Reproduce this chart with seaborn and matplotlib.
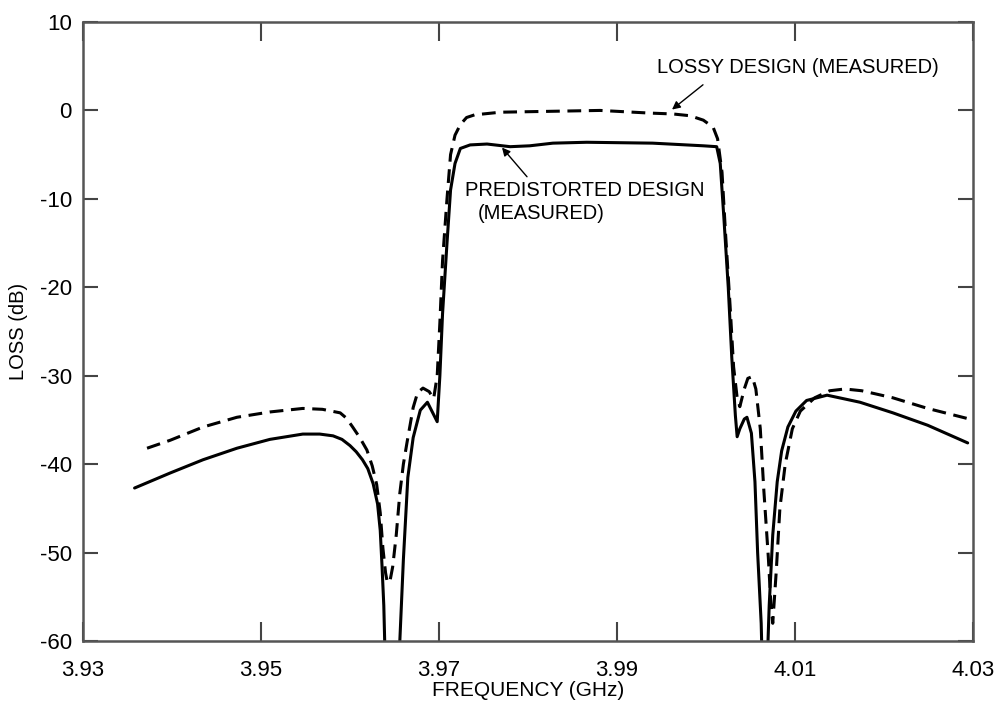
import matplotlib
matplotlib.use("Agg")
import matplotlib.pyplot as plt
import seaborn as sns
import pandas as pd

# ---- data ----
lossy_freq = [3.9372, 3.9398, 3.9435, 3.9473, 3.9510, 3.9547, 3.9569, 3.9589, 3.9596,
              3.9603, 3.9611, 3.9619, 3.9625, 3.9630, 3.9634, 3.9637, 3.9640, 3.9642,
              3.9645, 3.9648, 3.9652, 3.9656, 3.9660, 3.9664, 3.9671, 3.9676, 3.9682,
              3.9689, 3.9694, 3.9698, 3.9701, 3.9704, 3.9709, 3.9713, 3.9718, 3.9724,
              3.9731, 3.9740, 3.9769, 3.9825, 3.9881, 3.9937, 3.9963, 3.9982, 3.9997,
              4.0008, 4.0013, 4.0018, 4.0022, 4.0027, 4.0031, 4.0035, 4.0038, 4.0043,
              4.0047, 4.0052, 4.0056, 4.0061, 4.0065, 4.0070, 4.0073, 4.0075, 4.0079,
              4.0083, 4.0089, 4.0097, 4.0106, 4.0122, 4.0139, 4.0156, 4.0175, 4.0210,
              4.0249, 4.0300]
lossy_db = [-38.2, -37.3, -35.8, -34.7, -34.1, -33.7, -33.8, -34.2, -34.8,
            -35.8, -37.0, -38.4, -40.2, -42.3, -45.5, -49.5, -52.3, -53.4,
            -53.2, -51.6, -48.0, -43.3, -40.0, -37.6, -33.6, -31.9, -31.4,
            -31.8, -32.6, -30.0, -24.0, -17.0, -10.0, -5.0, -2.8, -1.6,
            -0.8, -0.5, -0.2, -0.1, 0.0, -0.3, -0.4, -0.6, -1.1,
            -1.9, -3.2, -7.0, -14.0, -22.0, -29.0, -32.5, -33.5, -31.5,
            -30.3, -30.1, -31.5, -36.0, -43.0, -50.5, -56.0, -58.0, -52.0,
            -45.0, -40.0, -36.0, -34.0, -32.5, -31.7, -31.5, -31.7, -32.5,
            -33.7, -35.0]

pre_freq = [3.9358, 3.9398, 3.9435, 3.9473, 3.9510, 3.9547, 3.9566, 3.9581, 3.9591,
            3.9600, 3.9607, 3.9614, 3.9620, 3.9626, 3.9631, 3.9634, 3.9636, 3.9638,
            3.9640, 3.9654, 3.9656, 3.9660, 3.9665, 3.9671, 3.9679, 3.9687, 3.9693,
            3.9698, 3.9701, 3.9704, 3.9709, 3.9713, 3.9718, 3.9724, 3.9735, 3.9754,
            3.9780, 3.9802, 3.9828, 3.9866, 3.9940, 3.9997, 4.0012, 4.0016, 4.0020,
            4.0025, 4.0029, 4.0033, 4.0035, 4.0038, 4.0043, 4.0046, 4.0051, 4.0055,
            4.0058, 4.0062, 4.0063, 4.0066, 4.0069, 4.0071, 4.0075, 4.0080, 4.0085,
            4.0092, 4.0101, 4.0113, 4.0136, 4.0173, 4.0210, 4.0249, 4.0294]
pre_db = [-42.7, -41.0, -39.5, -38.2, -37.2, -36.6, -36.6, -36.8, -37.2,
          -37.9, -38.6, -39.5, -40.5, -42.2, -44.5, -47.5, -51.5, -56.0,
          -64.0, -64.0, -60.0, -50.8, -41.5, -37.0, -33.9, -33.0, -34.2,
          -35.2, -30.0, -23.0, -15.0, -9.0, -6.0, -4.3, -3.9, -3.8,
          -4.1, -4.0, -3.7, -3.6, -3.7, -4.0, -4.1, -6.0, -12.0,
          -20.0, -28.0, -34.5, -36.9, -36.0, -34.9, -34.7, -36.5, -42.0,
          -50.0, -58.0, -62.0, -64.0, -62.0, -56.0, -48.0, -42.0, -38.5,
          -35.8, -34.0, -32.8, -32.2, -33.0, -34.2, -35.6, -37.6]

x_ticks = [3.93, 3.95, 3.97, 3.99, 4.01, 4.03]
x_tick_labels = ["3.93", "3.95", "3.97", "3.99", "4.01", "4.03"]
y_ticks = [10, 0, -10, -20, -30, -40, -50, -60]
y_tick_labels = ["10", "0", "-10", "-20", "-30", "-40", "-50", "-60"]

lossy_label = "LOSSY DESIGN (MEASURED)"
pre_label_1 = "PREDISTORTED DESIGN"
pre_label_2 = "(MEASURED)"

# ---- plot ----
sns.set_theme(style="ticks")
plt.rcParams["font.family"] = ["Liberation Sans", "DejaVu Sans"]

fig = plt.figure(figsize=(10.08, 7.03), dpi=100)
ax = fig.add_axes([0.0823, 0.0882, 0.8830, 0.8805])

df_lossy = pd.DataFrame({"freq": lossy_freq, "loss": lossy_db})
df_pre = pd.DataFrame({"freq": pre_freq, "loss": pre_db})

sns.lineplot(data=df_lossy, x="freq", y="loss", ax=ax, color="black",
             linewidth=2.2, sort=False, estimator=None)
ax.lines[-1].set_dashes([4.5, 2.5])
sns.lineplot(data=df_pre, x="freq", y="loss", ax=ax, color="black",
             linewidth=2.2, sort=False, estimator=None)

ax.set_xlim(3.93, 4.03)
ax.set_ylim(-60, 10)
ax.set_xticks(x_ticks)
ax.set_xticklabels(x_tick_labels)
ax.set_yticks(y_ticks)
ax.set_yticklabels(y_tick_labels)
ax.tick_params(axis="x", direction="in", length=14, width=1.5, color="#444444",
               labelsize=16, pad=14, labelcolor="black", bottom=True, top=True)
ax.tick_params(axis="y", direction="in", length=11, width=1.5, color="#444444",
               labelsize=16, pad=8, labelcolor="black", left=True, right=True)
for s in ax.spines.values():
    s.set_visible(True)
    s.set_color("#555555")
    s.set_linewidth(1.8)

ax.set_xlabel("FREQUENCY (GHz)", fontsize=15, labelpad=0, color="black")
ax.set_ylabel("LOSS (dB)", fontsize=14.5, labelpad=8, color="black")

ax.text(3.9945, 4.8, lossy_label, fontsize=14.5, va="center", ha="left", color="black")
ax.annotate("", xy=(3.99618, 0.1), xytext=(3.99966, 2.9),
            arrowprops=dict(arrowstyle="-|>", color="black", lw=1.0,
                            mutation_scale=12, shrinkA=0, shrinkB=0))
ax.text(3.9729, -9.0, pre_label_1, fontsize=14.5, va="center", ha="left", color="black")
ax.text(3.9743, -11.7, pre_label_2, fontsize=14.5, va="center", ha="left", color="black")
ax.annotate("", xy=(3.97708, -4.2), xytext=(3.97989, -7.5),
            arrowprops=dict(arrowstyle="-|>", color="black", lw=1.0,
                            mutation_scale=12, shrinkA=0, shrinkB=0))

fig.savefig("out.png", dpi=100)
